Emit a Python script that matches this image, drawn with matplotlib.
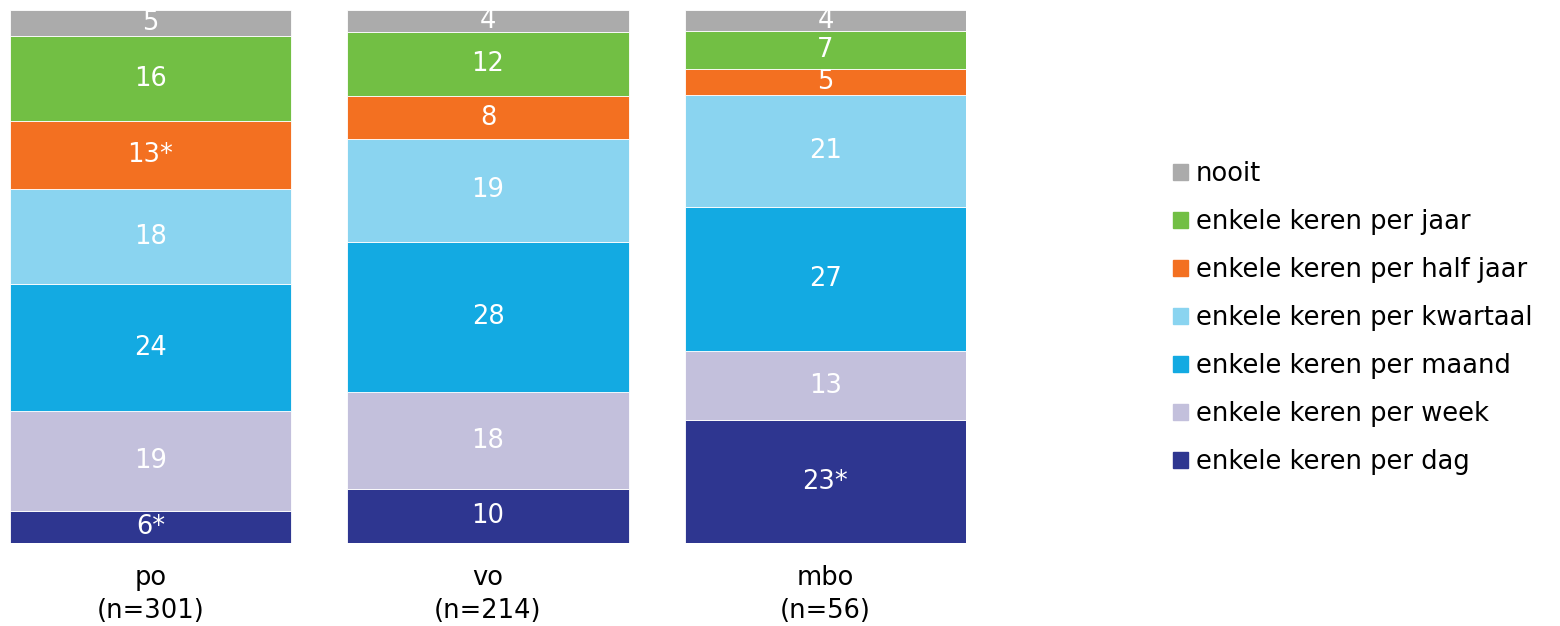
import matplotlib.pyplot as plt
import numpy as np
from matplotlib.patches import Patch

plt.rcParams["font.family"] = ["DejaVu Sans"]

# categorieën (onder naar boven gestapeld)
groepen = ["po\n(n=301)", "vo\n(n=214)", "mbo\n(n=56)"]
reeksen = [
    "enkele keren per dag", "enkele keren per week", "enkele keren per maand",
    "enkele keren per kwartaal", "enkele keren per half jaar",
    "enkele keren per jaar", "nooit",
]
kleuren = ["#2E3690", "#C3C0DC", "#13AAE2", "#8AD4F0", "#F37021", "#72BF44", "#ABABAB"]

dag = [6, 10, 23]
week = [19, 18, 13]
maand = [24, 28, 27]
kwartaal = [18, 19, 21]
halfjaar = [13, 8, 5]
jaar = [16, 12, 7]
nooit = [5, 4, 4]

# labels met significantie-sterretje
labels_dag = ["6*", "10", "23*"]
labels_halfjaar = ["13*", "8", "5"]

waarden = np.array([dag, week, maand, kwartaal, halfjaar, jaar, nooit], dtype=float)
totaal = waarden.sum(axis=0)
aandeel = waarden / totaal * 100

teksten = [[str(int(v)) for v in rij] for rij in waarden]
teksten[0] = labels_dag
teksten[4] = labels_halfjaar

fig = plt.figure(figsize=(15.6, 6.26), dpi=100)
ax = fig.add_axes([10 / 1560, 83 / 626, 956 / 1560, 533 / 626])

x = np.arange(len(groepen))
breedte = 0.833
onder = np.zeros(len(groepen))
for i, naam in enumerate(reeksen):
    ax.bar(x, aandeel[i], breedte, bottom=onder, color=kleuren[i],
           edgecolor="#FFFFFF", linewidth=0.6, label=naam)
    for j in range(len(groepen)):
        ax.text(x[j], onder[j] + aandeel[i][j] / 2, teksten[i][j],
                ha="center", va="center", color="white", fontsize=18.5)
    onder += aandeel[i]

ax.set_xlim(-breedte / 2, 2 + breedte / 2)
ax.set_ylim(0, 100)
ax.set_xticks(x)
ax.set_xticklabels(groepen, fontsize=18.5, linespacing=1.32)
ax.tick_params(axis="x", length=0, pad=16)
ax.set_yticks([])
for s in ax.spines.values():
    s.set_visible(False)

handles = [Patch(color=kleuren[i], label=reeksen[i]) for i in range(len(reeksen))][::-1]
fig.legend(handles=handles, loc="center left", bbox_to_anchor=(1173 / 1560, 0.492),
           frameon=False, fontsize=18.5, handlelength=0.6, handleheight=0.6,
           handletextpad=0.3, labelspacing=0.86, borderpad=0, borderaxespad=0)

fig.savefig("out.png", dpi=100)
